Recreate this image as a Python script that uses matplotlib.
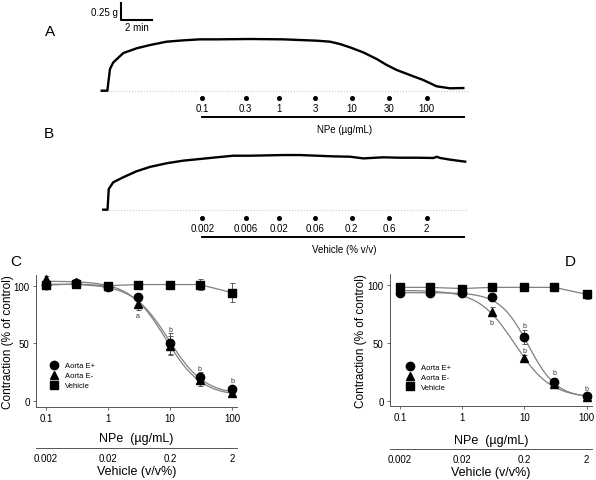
import numpy as np
import matplotlib
matplotlib.use("Agg")
import matplotlib.pyplot as plt
from matplotlib.lines import Line2D

plt.rcParams['font.family'] = ['Liberation Sans', 'DejaVu Sans']

W, H = 596, 481

# ---------------- tension traces (time in min, tension in g above baseline)
trace_a_t = [0, 0.37, 0.46, 0.54, 0.76, 1.41, 2.28, 3.15, 4.23, 5.32, 6.40, 7.49, 9.66, 11.83,
             12.92, 14.0, 14.87, 15.52, 16.18, 17.04, 17.92, 18.57, 19.22, 20.08, 20.95, 21.82,
             22.69, 23.56]
trace_a_g = [0, 0, 0.175, 0.325, 0.425, 0.564, 0.635, 0.684, 0.734, 0.754, 0.769, 0.769, 0.774,
             0.769, 0.759, 0.749, 0.734, 0.699, 0.649, 0.574, 0.474, 0.385, 0.31, 0.235, 0.16,
             0.066, 0.036, 0.04]
trace_b_t = [0.1, 0.38, 0.46, 0.75, 1.40, 2.27, 3.14, 4.23, 5.31, 6.40, 7.49, 8.57, 9.66, 10.75,
             11.84, 12.92, 14.01, 15.1, 16.18, 17.05, 18.35, 19.44, 20.53, 21.61, 21.83, 22.05,
             22.70, 23.68]
trace_b_g = [0, 0, 0.31, 0.41, 0.485, 0.575, 0.64, 0.695, 0.734, 0.759, 0.784, 0.808, 0.808,
             0.813, 0.818, 0.818, 0.808, 0.798, 0.793, 0.768, 0.784, 0.778, 0.778, 0.774, 0.793,
             0.774, 0.749, 0.719]
dose_times = [6.55, 9.38, 11.57, 13.9, 16.29, 18.74, 21.17]
npe_doses = ['0.1', '0.3', '1', '3', '10', '30', '100']
veh_doses = ['0.002', '0.006', '0.02', '0.06', '0.2', '0.6', '2']

# ---------------- concentration-response data
conc = [0.1, 0.3, 1, 3, 10, 30, 100]
c_eplus = [101, 102, 99, 90, 50, 21, 10]
c_eplus_err = [1, 1, 1.5, 3, 9, 4, 3]
c_eminus = [106, 103, 100, 84, 48, 18, 7]
c_eminus_err = [2, 1, 1.5, 5, 8, 5, 2]
c_veh = [100.5, 101.5, 100, 101, 101, 101, 94]
c_veh_err = [1, 1, 1, 2.5, 3, 5, 8]
c_fit_eplus = (101.5, 5, 9.5, 1.5)     # top, bottom, EC50, hill
c_fit_eminus = (104, 4, 8.5, 1.5)
c_marks = [(3, 74, 'a'), (10, 62, 'b'), (30, 28, 'b'), (100, 18, 'b')]

d_eplus = [93, 93, 93, 89.5, 55, 17, 4.3]
d_eplus_err = [2, 2, 2, 3, 6, 3, 1.5]
d_eminus = [96, 96, 95, 77, 37, 15, 4]
d_eminus_err = [2, 2, 2, 4, 3, 2, 1.5]
d_veh = [98, 98, 97, 98, 98, 98, 92]
d_veh_err = [1, 1, 1, 1, 1, 1, 4]
d_fit_eplus = (93.5, 3, 11.5, 1.9)
d_fit_eminus = (95.5, 3, 7, 1.5)
d_marks = [(3, 68, 'b'), (10, 65, 'b'), (10, 44, 'b'), (30, 25, 'b'), (100, 11, 'b')]

veh_ticks = [0.002, 0.02, 0.2, 2]
veh_labels = ['0.002', '0.02', '0.2', '2']


def box(left, top, right, bottom):
    return [left / W, 1 - bottom / H, (right - left) / W, (bottom - top) / H]


def hill(x, top, bottom, ec50, h):
    return bottom + (top - bottom) / (1 + (x / ec50) ** h)


fig = plt.figure(figsize=(W / 100, H / 100), dpi=100)


def trace_panel(rect, ylim, t, g, base_x, doses, bar_label, y_dot, y_lab, y_bar, y_title):
    ax = fig.add_axes(rect)
    ax.set_xlim(-0.436, 24.32)
    ax.set_ylim(*ylim)
    ax.axis('off')
    ax.plot(base_x, [0, 0], color='#c8c8c8', lw=0.8, ls=':')
    ax.plot(t, g, color='black', lw=1.7, solid_joinstyle='round')
    ax.plot(dose_times, [y_dot] * len(dose_times), 'o', color='black', ms=2.6)
    for x, lab in zip(dose_times, doses):
        ax.text(x, y_lab, lab, ha='center', va='center', fontsize=7)
    ax.plot([6.53, 23.62], [y_bar, y_bar], color='black', lw=1.4)
    ax.text(15.8, y_title, bar_label, ha='center', va='center', fontsize=7)
    return ax


axA = trace_panel(box(95, 0, 475, 135), (-0.648, 1.373), trace_a_t, trace_a_g, [0, 23.86],
                  npe_doses, 'NPe (µg/mL)', -0.109, -0.259, -0.389, -0.573)
# scale bar 0.25 g / 2 min
axA.plot([1.26, 1.26, 3.26], [1.313, 1.063, 1.063], color='black', lw=1.5)
axA.text(1.08, 1.18, '0.25 g', ha='right', va='center', fontsize=7)
axA.text(2.26, 0.955, '2 min', ha='center', va='center', fontsize=7)

trace_panel(box(95, 135, 475, 262), (-0.768, 1.133), trace_b_t, trace_b_g, [0.08, 23.86],
            veh_doses, 'Vehicle (% v/v)', -0.124, -0.278, -0.409, -0.588)


def dose_panel(rect, xlim, ylim, eplus, eplus_err, eminus, eminus_err, veh, veh_err,
               fit_p, fit_m, marks, sec_loc, lab_y, veh_lab_y, ylab_x, leg_xy):
    ax = fig.add_axes(rect)
    ax.set_xscale('log')
    ax.set_xlim(*xlim)
    ax.set_ylim(*ylim)
    xs = np.logspace(-1, 2, 200)
    ax.plot(xs, hill(xs, *fit_p), color='#808080', lw=0.9)
    ax.plot(xs, hill(xs, *fit_m), color='#808080', lw=0.9)
    ax.plot(conc, veh, color='#808080', lw=0.9)
    ekw = dict(ecolor='#444444', elinewidth=0.6, capsize=1.8, capthick=0.6, ls='none',
               color='black', zorder=3)
    ax.errorbar(conc, veh, yerr=veh_err, fmt='s', ms=5.2, **ekw)
    ax.errorbar(conc, eminus, yerr=eminus_err, fmt='^', ms=6.0, **ekw)
    ax.errorbar(conc, eplus, yerr=eplus_err, fmt='o', ms=6.0, **ekw)
    for x, y, s in marks:
        ax.text(x, y, s, ha='center', va='center', fontsize=5, color='#333333')
    for sp in ['top', 'right']:
        ax.spines[sp].set_visible(False)
    for sp in ['left', 'bottom']:
        ax.spines[sp].set_linewidth(0.7)
        ax.spines[sp].set_color('#555555')
    ax.set_xticks([0.1, 1, 10, 100])
    ax.set_xticklabels(['0.1', '1', '10', '100'])
    ax.xaxis.set_minor_locator(matplotlib.ticker.NullLocator())
    ax.set_yticks([0, 50, 100])
    ax.tick_params(direction='out', length=2.5, width=0.6, labelsize=7, pad=2, color='#555555')
    ax.set_xlabel('NPe  (µg/mL)', fontsize=9)
    ax.xaxis.set_label_coords(0.5, lab_y)
    ax.set_ylabel('Contraction (% of control)', fontsize=8.5)
    ax.yaxis.set_label_coords(ylab_x, 0.5)

    sec = ax.secondary_xaxis(sec_loc, functions=(lambda x: x * 0.02, lambda x: x / 0.02))
    sec.set_xticks(veh_ticks)
    sec.set_xticklabels(veh_labels)
    sec.xaxis.set_minor_locator(matplotlib.ticker.NullLocator())
    sec.tick_params(length=0, labelsize=7, pad=3.5)
    sec.spines['bottom'].set_linewidth(0.7)
    sec.spines['bottom'].set_color('#555555')
    ax.text(0.5, veh_lab_y, 'Vehicle (v/v%)', transform=ax.transAxes, ha='center',
            va='center', fontsize=9)

    handles = [Line2D([], [], marker='o', ls='none', color='black', ms=6.0),
               Line2D([], [], marker='^', ls='none', color='black', ms=6.0),
               Line2D([], [], marker='s', ls='none', color='black', ms=5.2)]
    ax.legend(handles, ['Aorta E+', 'Aorta E-', 'Vehicle'], loc='upper left',
              bbox_to_anchor=leg_xy, frameon=False, fontsize=5.5, handlelength=1.0,
              handletextpad=0.9, labelspacing=0.35, borderpad=0, borderaxespad=0)
    return ax


dose_panel(box(36, 276, 236.7, 407.7), (0.069, 119), (-5.2, 109.3),
           c_eplus, c_eplus_err, c_eminus, c_eminus_err, c_veh, c_veh_err,
           c_fit_eplus, c_fit_eminus, c_marks, -0.314, -0.192, -0.486, -0.11, (0.071, 0.339))
dose_panel(box(390, 275, 591.7, 406.7), (0.069, 120.3), (-3.8, 109.5),
           d_eplus, d_eplus_err, d_eminus, d_eminus_err, d_veh, d_veh_err,
           d_fit_eplus, d_fit_eminus, d_marks, -0.329, -0.215, -0.503, -0.115, (0.080, 0.32))

# panel letters
for lab, x, y in [('A', 50, 32), ('B', 49, 134), ('C', 16, 262), ('D', 570, 262)]:
    fig.text(x / W, 1 - y / H, lab, ha='center', va='center', fontsize=11)

fig.savefig('out.png', dpi=100)
